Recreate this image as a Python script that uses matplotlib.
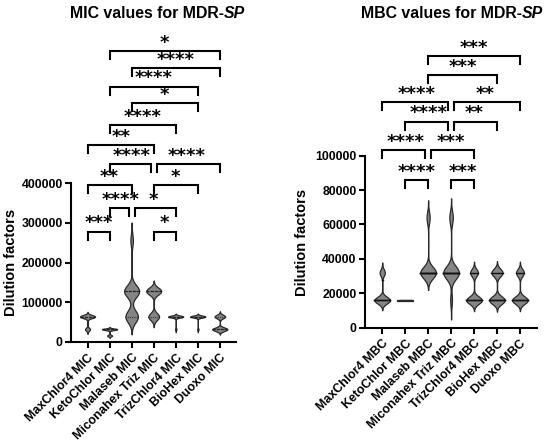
import numpy as np
import matplotlib
matplotlib.use("Agg")
import matplotlib.pyplot as plt

# ---------------- data ----------------
mic_labels = ["MaxChlor4 MIC", "KetoChlor MIC", "Malaseb MIC", "Miconahex Triz MIC",
              "TrizChlor4 MIC", "BioHex MIC", "Duoxo MIC"]
mbc_labels = ["MaxChlor4 MBC", "KetoChlor MBC", "Malaseb MBC", "Miconahex Triz MBC",
              "TrizChlor4 MBC", "BioHex MBC", "Duoxo MBC"]

mic_maxchlor4 = [64000, 64000, 64000, 64000, 64000, 64000, 64000, 64000, 64000, 32000, 32000, 32000]
mic_ketochlor = [32000, 32000, 32000, 32000, 32000, 32000, 32000, 32000, 32000, 16000, 16000, 16000]
mic_malaseb = [128000, 128000, 128000, 128000, 128000, 128000, 64000, 64000, 64000, 64000, 64000, 256000]
mic_miconahex = [128000, 128000, 128000, 128000, 128000, 128000, 128000, 64000, 64000, 64000, 64000, 64000]
mic_trizchlor4 = [64000, 64000, 64000, 64000, 64000, 64000, 64000, 64000, 64000, 64000, 64000, 32000]
mic_biohex = [64000, 64000, 64000, 64000, 64000, 64000, 64000, 64000, 64000, 64000, 64000, 32000]
mic_duoxo = [64000, 64000, 64000, 64000, 64000, 32000, 32000, 32000, 32000, 32000, 32000, 32000]

mbc_maxchlor4 = [16000, 16000, 16000, 16000, 16000, 16000, 16000, 16000, 16000, 32000, 32000, 32000]
mbc_ketochlor = [16000, 16000, 16000, 16000, 16000, 16000, 16000, 16000, 16000, 16000, 16000, 16000]
mbc_malaseb = [32000, 32000, 32000, 32000, 32000, 32000, 32000, 32000, 32000, 32000, 64000, 64000]
mbc_miconahex = [32000, 32000, 32000, 32000, 32000, 32000, 32000, 32000, 32000, 64000, 64000, 16000]
mbc_trizchlor4 = [16000, 16000, 16000, 16000, 16000, 16000, 16000, 16000, 32000, 32000, 32000, 32000]
mbc_biohex = [16000, 16000, 16000, 16000, 16000, 16000, 16000, 32000, 32000, 32000, 32000, 32000]
mbc_duoxo = [16000, 16000, 16000, 16000, 16000, 16000, 16000, 16000, 32000, 32000, 32000, 32000]

mic_values = [mic_maxchlor4, mic_ketochlor, mic_malaseb, mic_miconahex,
              mic_trizchlor4, mic_biohex, mic_duoxo]
mbc_values = [mbc_maxchlor4, mbc_ketochlor, mbc_malaseb, mbc_miconahex,
              mbc_trizchlor4, mbc_biohex, mbc_duoxo]

mic_ticks = [0, 100000, 200000, 300000, 400000]
mbc_ticks = [0, 20000, 40000, 60000, 80000, 100000]

# significance comparisons (group i, group j, stars, bracket height)
mic_cmp_i = [0, 3, 1, 2, 0, 3, 1, 3, 0, 1, 2, 1, 2, 1]
mic_cmp_j = [1, 4, 2, 4, 2, 5, 3, 6, 3, 4, 5, 5, 6, 6]
mic_cmp_stars = ["***", "*", "****", "*", "**", "*", "****", "****", "**", "****", "*", "****", "****", "*"]
mic_cmp_y = [278000, 278000, 336700, 336700, 394200, 394200, 446700, 446700,
             495000, 545000, 600800, 642500, 688300, 731700]

mbc_cmp_i = [1, 3, 0, 2, 1, 3, 0, 3, 2, 2]
mbc_cmp_j = [2, 4, 2, 4, 3, 5, 3, 6, 5, 6]
mbc_cmp_stars = ["****", "***", "****", "***", "****", "**", "****", "**", "***", "***"]
mbc_cmp_y = [85900, 85900, 103300, 103300, 119800, 119800, 131000, 131000, 146900, 158000]

# ---------------- style ----------------
FONT = "Liberation Sans"
FILL = "#858585"
EDGE = "#2a2a2a"
W, H = 550, 443

fig = plt.figure(figsize=(W / 100, H / 100), dpi=100)


def kde_stats(d, bw_frac=0.27, cut=3.0, npts=400):
    d = np.asarray(d, float)
    sd = d.std(ddof=1)
    if sd == 0:
        v = d[0]
        return dict(coords=np.array([v - 250, v + 250]), vals=np.array([1.0, 1.0]),
                    mean=v, median=v, min=v, max=v), True
    h = bw_frac * sd
    y = np.linspace(d.min() - cut * h, d.max() + cut * h, npts)
    dens = np.exp(-0.5 * ((y[:, None] - d[None, :]) / h) ** 2).sum(axis=1)
    return dict(coords=y, vals=dens, mean=d.mean(), median=np.median(d),
                min=d.min(), max=d.max()), False


def make_panel(rect, ylim_top, spine_top, values, labels, ticks,
               ci, cj, stars, cy, med_style, q_style):
    ax = fig.add_axes(rect)
    n = len(values)
    pos = np.arange(n)
    width = 0.68
    stats = []
    flat = []
    for v in values:
        s, f = kde_stats(v)
        stats.append(s)
        flat.append(f)
    parts = ax.violin(stats, positions=pos, widths=width, showmeans=False,
                      showextrema=False, showmedians=False)
    for b in parts["bodies"]:
        b.set_facecolor(FILL)
        b.set_edgecolor(EDGE)
        b.set_linewidth(0.9)
        b.set_alpha(1)
    for k, (v, s, f) in enumerate(zip(values, stats, flat)):
        hw_vals = 0.5 * width * s["vals"] / s["vals"].max()
        if f:
            ax.plot([k - width * 0.42, k + width * 0.42], [s["median"]] * 2,
                    color=EDGE, lw=1.0, solid_capstyle="butt")
            continue
        q1, med, q3 = np.percentile(v, [25, 50, 75], method="weibull")
        for q, st in ((q1, q_style), (q3, q_style), (med, med_style)):
            hw = np.interp(q, s["coords"], hw_vals)
            ax.plot([k - hw, k + hw], [q, q], color=st[0], ls=st[1], lw=st[2])

    ax.set_xlim(-0.75, n - 0.27)
    ax.set_ylim(0, ylim_top)
    ax.spines["top"].set_visible(False)
    ax.spines["right"].set_visible(False)
    for sp in ("left", "bottom"):
        ax.spines[sp].set_linewidth(1.5)
    ax.spines["left"].set_bounds(0, spine_top)
    ax.set_yticks(ticks)
    ax.set_yticklabels([str(t) for t in ticks], fontfamily=FONT, fontweight="bold", fontsize=8.8)
    ax.set_xticks(pos)
    ax.set_xticklabels(labels, rotation=45, ha="right", va="top", rotation_mode="anchor",
                       fontfamily=FONT, fontweight="bold", fontsize=8.9)
    ax.tick_params(axis="both", direction="out", length=4, width=1.5, pad=2)
    ax.tick_params(axis="x", pad=3)

    # brackets
    axh_px = rect[3] * H
    dpp = ylim_top / axh_px
    tick_h = 8 * dpp
    shrink = 0.13
    for a, b_, st, y in zip(ci, cj, stars, cy):
        xa, xb = float(a), float(b_)
        for a2, b2, y2 in zip(ci, cj, cy):
            if y2 != y or (a2 == a and b2 == b_):
                continue
            if b2 == a or a2 == a:
                xa += shrink
            if a2 == b_ or b2 == b_:
                xb -= shrink
        ax.plot([xa, xa, xb, xb], [y - tick_h, y, y, y - tick_h], color="black",
                lw=1.5, solid_joinstyle="miter", clip_on=False)
        ax.annotate(st, ((a + b_) / 2, y), xytext=(0, 2.3), textcoords="offset points",
                    ha="center", va="baseline", fontsize=13, fontweight="bold",
                    fontfamily="DejaVu Sans", annotation_clip=False)
    return ax


# left panel (MIC)
mic_rect = [71 / W, (H - 342) / H, 165 / W, (342 - 30) / H]
make_panel(mic_rect, 785000, 400000, mic_values, mic_labels, mic_ticks,
           mic_cmp_i, mic_cmp_j, mic_cmp_stars, mic_cmp_y,
           med_style=("#222222", (0, (2.2, 1.2)), 0.9),
           q_style=("#333333", (0, (1, 1)), 0.8))

# right panel (MBC)
mbc_rect = [365 / W, (H - 327.7) / H, 171.7 / W, (327.7 - 30) / H]
make_panel(mbc_rect, 173000, 100000, mbc_values, mbc_labels, mbc_ticks,
           mbc_cmp_i, mbc_cmp_j, mbc_cmp_stars, mbc_cmp_y,
           med_style=("#111111", "-", 1.0),
           q_style=("#111111", "-", 1.0))

# titles
tkw = dict(fontfamily=FONT, fontweight="bold", fontsize=11.4, va="baseline")
fig.text(223.5 / W, 1 - 17.5 / H, "MIC values for MDR-", ha="right", **tkw)
fig.text(223.5 / W, 1 - 17.5 / H, "SP", ha="left", fontstyle="italic", **tkw)
fig.text(522 / W, 1 - 18.3 / H, "MBC values for MDR-", ha="right", **tkw)
fig.text(522 / W, 1 - 18.3 / H, "SP", ha="left", fontstyle="italic", **tkw)

# y labels
lkw = dict(fontfamily=FONT, fontweight="bold", fontsize=10.5, rotation=90,
           ha="center", va="center")
fig.text(11 / W, 1 - 262 / H, "Dilution factors", **lkw)
fig.text(302 / W, 1 - 242 / H, "Dilution factors", **lkw)

fig.savefig("out.png", dpi=100, facecolor="white")
